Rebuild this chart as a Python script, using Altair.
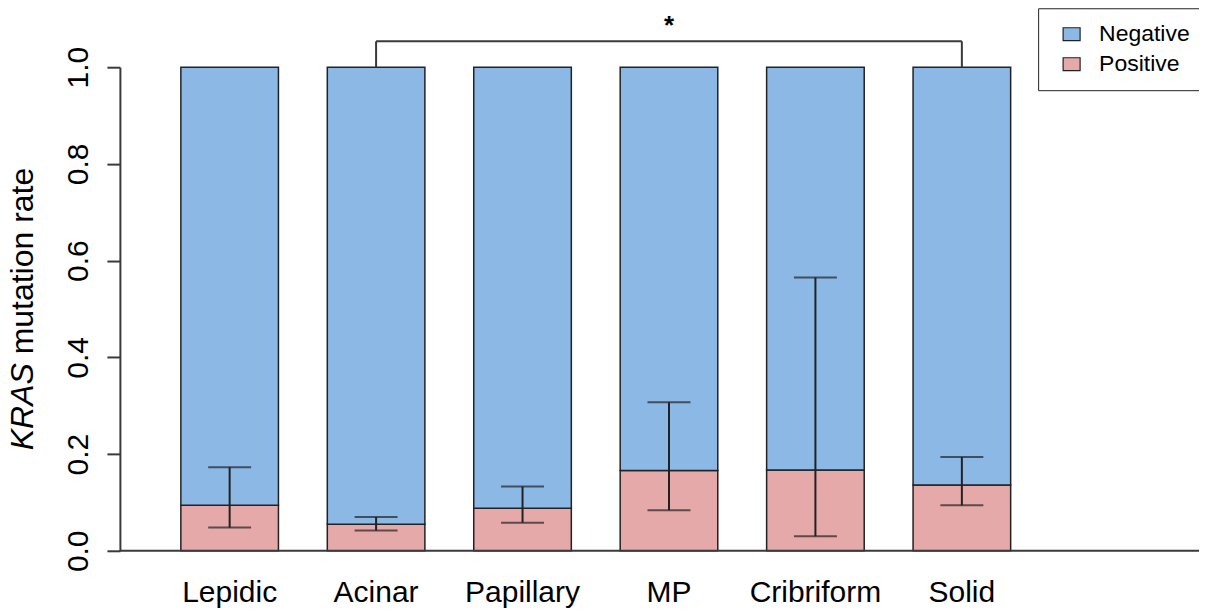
import altair as alt
import pandas as pd

# ---- data ----
categories = ["Lepidic", "Acinar", "Papillary", "MP", "Cribriform", "Solid"]
positive_rate = [0.094, 0.055, 0.088, 0.166, 0.167, 0.136]
ci_low = [0.048, 0.042, 0.058, 0.084, 0.030, 0.094]
ci_high = [0.173, 0.070, 0.133, 0.307, 0.565, 0.194]
status_names = ["Negative", "Positive"]
bracket_groups = ["Acinar", "Solid"]
bracket_level = 1.0535
star_level = 1.068
star_text = "*"
y_ticks = [0.0, 0.2, 0.4, 0.6, 0.8, 1.0]

FONT = "Liberation Sans"
BLUE = "#8BB8E5"
PINK = "#E6A9A9"
LINE = "#3a3a3a"
H = 484

rows = []
for i, c in enumerate(categories):
    rows.append({"group": c, "status": "Positive", "rate": positive_rate[i], "ord": 0})
    rows.append({"group": c, "status": "Negative", "rate": 1 - positive_rate[i], "ord": 1})
bars_df = pd.DataFrame(rows)
err_df = pd.DataFrame({"group": categories, "lo": ci_low, "hi": ci_high})
bracket_df = pd.DataFrame({"group": bracket_groups, "base": [1.0, 1.0], "top": [bracket_level] * 2})
bracket_h_df = pd.DataFrame({"g1": [bracket_groups[0]], "g2": [bracket_groups[1]], "top": [bracket_level]})
star_df = pd.DataFrame({"group": [categories[3]], "y": [star_level], "t": [star_text]})

xscale = alt.Scale(domain=categories, range=[61, 891.5], paddingInner=0.3336, paddingOuter=0)
yscale = alt.Scale(domain=[0, 1], nice=False, zero=True)

x_enc = alt.X("group:N", scale=xscale, sort=categories,
              axis=alt.Axis(title=None, labelAngle=0, labelFontSize=30, labelFont=FONT,
                            labelColor="black", domain=False, ticks=False, tickSize=0,
                            labelBaseline="alphabetic", labelPadding=51))

rect_symbol = "M-1,-0.76H1V0.76H-1Z"

bars = alt.Chart(bars_df).mark_bar(stroke="#222222", strokeWidth=1.5).encode(
    x=x_enc,
    y=alt.Y("rate:Q", stack="zero", scale=yscale,
            axis=alt.Axis(title=None, values=y_ticks, format=".1f", labelAngle=270,
                          labelAlign="center", labelBaseline="alphabetic", labelPadding=19,
                          labelFontSize=30, labelFont=FONT, labelColor="black",
                          tickSize=13, tickWidth=2, tickColor=LINE, domainWidth=2,
                          domainColor=LINE, grid=False)),
    color=alt.Color("status:N", scale=alt.Scale(domain=status_names, range=[BLUE, PINK]),
                    legend=alt.Legend(title=None, orient="none", legendX=919, legendY=-59,
                                      direction="vertical", symbolType=rect_symbol, symbolSize=289,
                                      symbolStrokeColor="#222222", symbolStrokeWidth=1.2,
                                      labelFontSize=23, labelFont=FONT, labelColor="black",
                                      labelOffset=16, clipHeight=30, rowPadding=0,
                                      padding=11, strokeColor="#222222", labelLimit=200,
                                      fillColor="white", symbolOffset=11)),
    order=alt.Order("ord:Q"),
)

err_rule = alt.Chart(err_df).mark_rule(color="#222222", strokeWidth=2).encode(
    x=alt.X("group:N", scale=xscale, sort=categories),
    y=alt.Y("lo:Q", scale=yscale),
    y2="hi:Q",
)
cap_lo = alt.Chart(err_df).mark_tick(color="#222222", thickness=2, size=43).encode(
    x=alt.X("group:N", scale=xscale, sort=categories),
    y=alt.Y("lo:Q", scale=yscale),
)
cap_hi = alt.Chart(err_df).mark_tick(color="#222222", thickness=2, size=43).encode(
    x=alt.X("group:N", scale=xscale, sort=categories),
    y=alt.Y("hi:Q", scale=yscale),
)

x_axis_line = alt.Chart(pd.DataFrame({"v": [0.0]})).mark_rule(color=LINE, strokeWidth=2).encode(
    x=alt.value(0), x2=alt.value(1080), y=alt.Y("v:Q", scale=yscale)
)

bracket_v = alt.Chart(bracket_df).mark_rule(color=LINE, strokeWidth=2).encode(
    x=alt.X("group:N", scale=xscale, sort=categories),
    y=alt.Y("base:Q", scale=yscale), y2="top:Q",
)
bracket_h = alt.Chart(bracket_h_df).mark_rule(color=LINE, strokeWidth=2).encode(
    x=alt.X("g1:N", scale=xscale, sort=categories), x2="g2:N",
    y=alt.Y("top:Q", scale=yscale),
)
star = alt.Chart(star_df).mark_text(font=FONT, fontSize=26, fontWeight="bold",
                                     baseline="alphabetic", align="center", color="black").encode(
    x=alt.X("group:N", scale=xscale, sort=categories),
    y=alt.Y("y:Q", scale=yscale),
    text="t:N",
)

title_df = pd.DataFrame({"a": ["KRAS"], "b": ["mutation rate"]})
title_it = alt.Chart(title_df).mark_text(font=FONT, fontSize=32, fontStyle="italic", angle=270,
                                         align="left", baseline="alphabetic", color="black").encode(
    x=alt.value(-87), y=alt.value(H / 2 + 141.4), text="a:N")
title_rest = alt.Chart(title_df).mark_text(font=FONT, fontSize=32, angle=270,
                                           align="left", baseline="alphabetic", color="black").encode(
    x=alt.value(-87), y=alt.value(H / 2 + 141.4 - 96.0), text="b:N")

chart = alt.layer(
    bars, x_axis_line, err_rule, cap_lo, cap_hi, bracket_v, bracket_h, star, title_it, title_rest
).properties(
    width=1080, height=H,
    background="white",
    autosize=alt.AutoSizeParams(type="none"),
    padding={"left": 112, "top": 59, "right": 0, "bottom": 57},
).configure_view(strokeWidth=0, stroke="transparent")

chart.save("out.html", embed_options={"renderer": "svg", "actions": False})
